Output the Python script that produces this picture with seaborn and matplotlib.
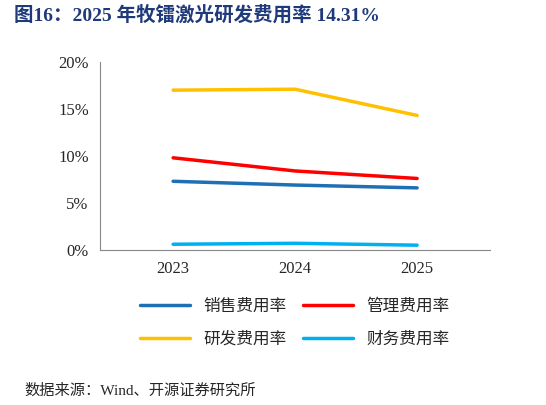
import matplotlib
matplotlib.use("Agg")
import matplotlib.pyplot as plt
import seaborn as sns
import pandas as pd
from matplotlib.ticker import FuncFormatter

years = ["2023", "2024", "2025"]
sales = [7.3, 6.9, 6.6]
admin = [9.8, 8.4, 7.6]
rnd = [17.0, 17.1, 14.31]
fin = [0.6, 0.7, 0.5]
names = ["销售费用率", "管理费用率", "研发费用率", "财务费用率"]
colors = ["#1F6FB5", "#FF0000", "#FFC000", "#00B0F0"]

sns.set_style("white")
plt.rcParams['font.family'] = ['Liberation Serif', 'Noto Sans CJK SC', 'DejaVu Sans']

df = pd.DataFrame({"year": years * 4,
                   "val": sales + admin + rnd + fin,
                   "name": sum([[n] * 3 for n in names], [])})

fig = plt.figure(figsize=(5.46, 4.05), dpi=100)
ax = fig.add_axes([0.183, 0.383, 0.715, 0.464])
sns.lineplot(data=df, x="year", y="val", hue="name", palette=colors,
             linewidth=2.5, ax=ax, sort=False)
ax.set_ylim(0, 20)
ax.set_yticks([0, 5, 10, 15, 20])
ax.yaxis.set_major_formatter(FuncFormatter(lambda v, p: f"{int(v)}%"))
ax.set_xlim(-0.6, 2.6)
ax.set_xlabel(""); ax.set_ylabel("")
for s in ["top", "right"]:
    ax.spines[s].set_visible(False)
for s in ["left", "bottom"]:
    ax.spines[s].set_color("#888888")
ax.tick_params(labelsize=12, length=0, pad=8)
h, l = ax.get_legend_handles_labels()
order = [0, 2, 1, 3]
ax.legend([h[i] for i in order], [l[i] for i in order],
          loc="upper center", bbox_to_anchor=(0.5, -0.18), ncol=2, frameon=False,
          fontsize=12, handlelength=3, columnspacing=1.0, labelspacing=1.0)

fig.text(0.025, 0.962, "图16：2025 年牧镭激光研发费用率 14.31%", fontsize=14,
         fontweight="bold", color="#1F3A7A", va="center")
fig.text(0.045, 0.035, "数据来源：Wind、开源证券研究所", fontsize=11, va="center")
fig.savefig("out.png", dpi=100)
